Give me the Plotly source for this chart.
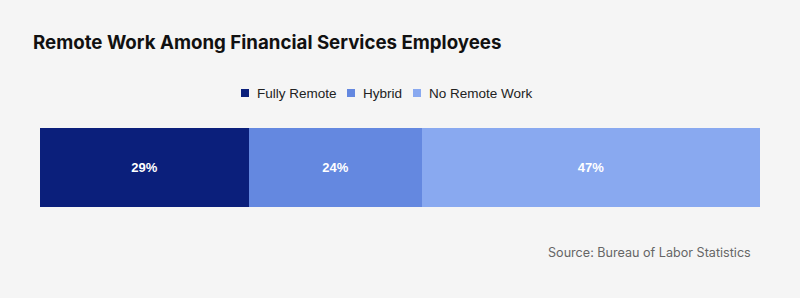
import plotly.graph_objects as go

categories = ["Fully Remote", "Hybrid", "No Remote Work"]
values = [29, 24, 47]
colors = ["#0b1f7b", "#6488e0", "#89a9f0"]
row = ["Employees"]

W, H = 800, 298
ML, MR, MT, MB = 40, 40, 128, 91
PW, PH = W - ML - MR, H - MT - MB

def px(x):
    return (x - ML) / PW

def py(y):
    return (H - MB - y) / PH

fig = go.Figure()
for name, v, c in zip(categories, values, colors):
    fig.add_trace(go.Bar(
        x=[v], y=row, name=name, orientation="h",
        marker=dict(color=c, line=dict(width=0)),
        text=[f"{v}%"], textposition="inside", insidetextanchor="middle",
        textfont=dict(color="white", size=13, family="Liberation Sans, Arial, sans-serif", weight="bold"),
        hoverinfo="skip", showlegend=False,
    ))

# custom legend (key squares + labels)
legend_key_x = [241, 347, 413]
shapes, annotations = [], []
for name, c, kx in zip(categories, colors, legend_key_x):
    shapes.append(dict(type="rect", xref="paper", yref="paper",
                       x0=px(kx), x1=px(kx + 8), y0=py(97), y1=py(89),
                       fillcolor=c, line=dict(width=0)))
    annotations.append(dict(text=name, xref="paper", yref="paper",
                            x=px(kx + 14), xanchor="left", y=py(93), yanchor="middle",
                            showarrow=False,
                            font=dict(size=13.5, color="#222", family="Liberation Sans, Arial, sans-serif")))

annotations.append(dict(text="Source: Bureau of Labor Statistics", xref="paper", yref="paper",
                        x=px(753), xanchor="right", y=py(252), yanchor="middle", showarrow=False,
                        font=dict(size=12.6, color="#666", family="Inter, sans-serif")))

fig.update_layout(
    width=W, height=H,
    barmode="stack", bargap=0,
    paper_bgcolor="#f5f5f5", plot_bgcolor="#f5f5f5",
    margin=dict(l=ML, r=MR, t=MT, b=MB),
    showlegend=False,
    xaxis=dict(range=[0, 100], visible=False, fixedrange=True),
    yaxis=dict(visible=False, fixedrange=True),
    title=dict(text="<b>Remote Work Among Financial Services Employees</b>",
               x=33 / W, xanchor="left", y=1 - 42 / H, yanchor="middle",
               font=dict(size=18.7, color="#111", family="Inter, sans-serif")),
    shapes=shapes,
    annotations=annotations,
)

fig.write_html("out.html")
